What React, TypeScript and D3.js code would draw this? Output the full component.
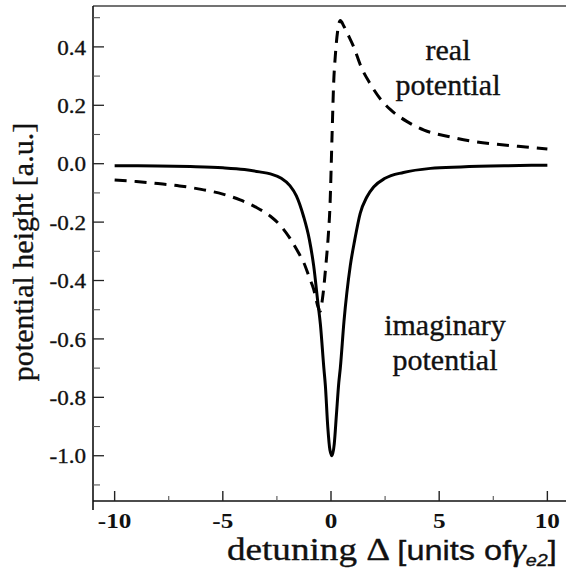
import React, { useLayoutEffect, useRef, useState } from "react";
import * as d3 from "d3";

// ---- data ----
const realX = [-10, -9, -8, -7, -6, -5, -4.2, -3.5, -2.8, -2.3, -1.9, -1.5, -1.25, -1.0, -0.8, -0.6, -0.5, -0.39, -0.24, -0.12, -0.05, 0.05, 0.12, 0.2, 0.3, 0.43, 0.6, 0.8, 1.05, 1.4, 1.8, 2.3, 2.75, 3.5, 4.3, 5.5, 6.5, 8, 9, 10];
const realY = [-0.056, -0.061, -0.068, -0.076, -0.088, -0.104, -0.124, -0.148, -0.18, -0.215, -0.255, -0.305, -0.34, -0.39, -0.43, -0.49, -0.505, -0.46, -0.35, -0.24, -0.15, 0.1, 0.27, 0.37, 0.45, 0.49, 0.47, 0.44, 0.4, 0.33, 0.275, 0.22, 0.185, 0.145, 0.115, 0.092, 0.077, 0.064, 0.057, 0.05];

const imagX = [-10, -8, -6.5, -5, -4, -3.3, -2.8, -2.3, -1.9, -1.6, -1.27, -1.0, -0.8, -0.6, -0.49, -0.33, -0.26, -0.15, -0.05, 0.05, 0.15, 0.25, 0.36, 0.43, 0.6, 0.89, 1.1, 1.35, 1.65, 1.97, 2.5, 3.35, 4.6, 6, 8, 10];
const imagY = [-0.007, -0.008, -0.01, -0.014, -0.02, -0.028, -0.035, -0.05, -0.075, -0.11, -0.18, -0.26, -0.35, -0.48, -0.55, -0.7, -0.76, -0.9, -0.98, -1.0, -0.96, -0.86, -0.75, -0.7, -0.54, -0.35, -0.26, -0.17, -0.115, -0.08, -0.05, -0.03, -0.016, -0.011, -0.007, -0.005];

const xMajor = [-10, -5, 0, 5, 10];
const xMinor = [-7.5, -2.5, 2.5, 7.5];
const yMajor = [0.4, 0.2, 0.0, -0.2, -0.4, -0.6, -0.8, -1.0];
const yMinor = [0.5, 0.3, 0.1, -0.1, -0.3, -0.5, -0.7, -0.9, -1.1];

const SERIF = "Liberation Serif, DejaVu Serif, serif";
const SANS = "Liberation Sans, DejaVu Sans, sans-serif";

export default function App() {
  const W = 566, H = 579;
  const x = d3.scaleLinear().domain([-11, 11]).range([93, 569]);
  const y = d3.scaleLinear().domain([-1.155, 0.54]).range([501, 6]);
  const line = d3
    .line<[number, number]>()
    .x((d) => x(d[0]))
    .y((d) => y(d[1]))
    .curve(d3.curveMonotoneX);
  const realPts = realX.map((v, i) => [v, realY[i]] as [number, number]);
  const imagPts = imagX.map((v, i) => [v, imagY[i]] as [number, number]);
  const x0 = x.range()[0];
  const yb = y.range()[0];
  const yt = y.range()[1];
  const serif = { fontFamily: SERIF };
  const sans = { fontFamily: SANS };

  const titleRef = useRef<SVGTextElement>(null);
  const [sx, setSx] = useState(1);
  useLayoutEffect(() => {
    if (titleRef.current) {
      const w = titleRef.current.getBBox().width;
      if (w > 0) setSx(330 / w);
    }
  }, []);

  const heavy = { stroke: "#111", strokeWidth: 0.35 };

  return (
    <svg width={W} height={H} style={{ position: "absolute", left: 0, top: 0, background: "#fff" }}>
      {/* frame lines */}
      <line x1={x0} x2={W} y1={yt} y2={yt} stroke="#444" strokeWidth={1.5} />
      <line x1={x0} x2={x0} y1={yt} y2={yb + 9} stroke="#111" strokeWidth={1.6} />
      <line x1={x0} x2={W} y1={yb} y2={yb} stroke="#111" strokeWidth={1.6} />

      {/* y ticks */}
      {yMajor.map((v) => (
        <g key={"ym" + v}>
          <line x1={x0} x2={x0 + 11} y1={y(v)} y2={y(v)} stroke="#222" strokeWidth={1.3} />
          <text
            transform={`translate(86,${y(v)}) scale(1.05,1)`}
            dy="0.35em"
            textAnchor="end"
            style={serif}
            fontSize={22}
            fill="#111"
            {...heavy}
          >
            {v.toFixed(1)}
          </text>
        </g>
      ))}
      {yMinor.map((v) => (
        <line key={"yn" + v} x1={x0} x2={x0 + 7} y1={y(v)} y2={y(v)} stroke="#555" strokeWidth={1.1} />
      ))}

      {/* x ticks */}
      {xMajor.map((v) => (
        <g key={"xm" + v}>
          <line x1={x(v)} x2={x(v)} y1={yb} y2={yb - 10} stroke="#222" strokeWidth={1.4} />
          <text
            transform={`translate(${x(v)},528) scale(1.2,1)`}
            textAnchor="middle"
            style={serif}
            fontWeight="bold"
            fontSize={21}
            fill="#111"
          >
            {String(v)}
          </text>
        </g>
      ))}
      {xMinor.map((v) => (
        <line key={"xn" + v} x1={x(v)} x2={x(v)} y1={yb} y2={yb - 5} stroke="#555" strokeWidth={1.1} />
      ))}

      {/* curves */}
      <path d={line(imagPts) || ""} fill="none" stroke="#000" strokeWidth={3} strokeLinejoin="round" />
      <path d={line(realPts) || ""} fill="none" stroke="#000" strokeWidth={3} strokeDasharray="12,8" />

      {/* annotations */}
      <text textAnchor="middle" style={serif} fontSize={30} fill="#111" {...heavy}>
        <tspan x={448} y={60}>real</tspan>
        <tspan x={448} y={95}>potential</tspan>
      </text>
      <text textAnchor="middle" style={serif} fontSize={30} fill="#111" {...heavy}>
        <tspan x={445} y={335}>imaginary</tspan>
        <tspan x={445} y={370}>potential</tspan>
      </text>

      {/* axis titles */}
      <text
        transform={`translate(33,252) rotate(-90)`}
        textAnchor="middle"
        style={serif}
        fontSize={30}
        fill="#111"
        {...heavy}
      >
        potential height [a.u.]
      </text>
      <g transform={`translate(227,560) scale(${sx},1)`}>
        <text ref={titleRef} x={0} y={0} fontSize={32} fill="#111" {...heavy}>
          <tspan style={serif}>detuning Δ </tspan>
          <tspan style={sans} fontSize={28}>[units of</tspan>
          <tspan style={serif} fontStyle="italic">γ</tspan>
          <tspan style={sans} fontStyle="italic" fontSize={17} dy={6}>e2</tspan>
          <tspan style={sans} fontSize={28} dy={-6}>]</tspan>
        </text>
      </g>
    </svg>
  );
}
